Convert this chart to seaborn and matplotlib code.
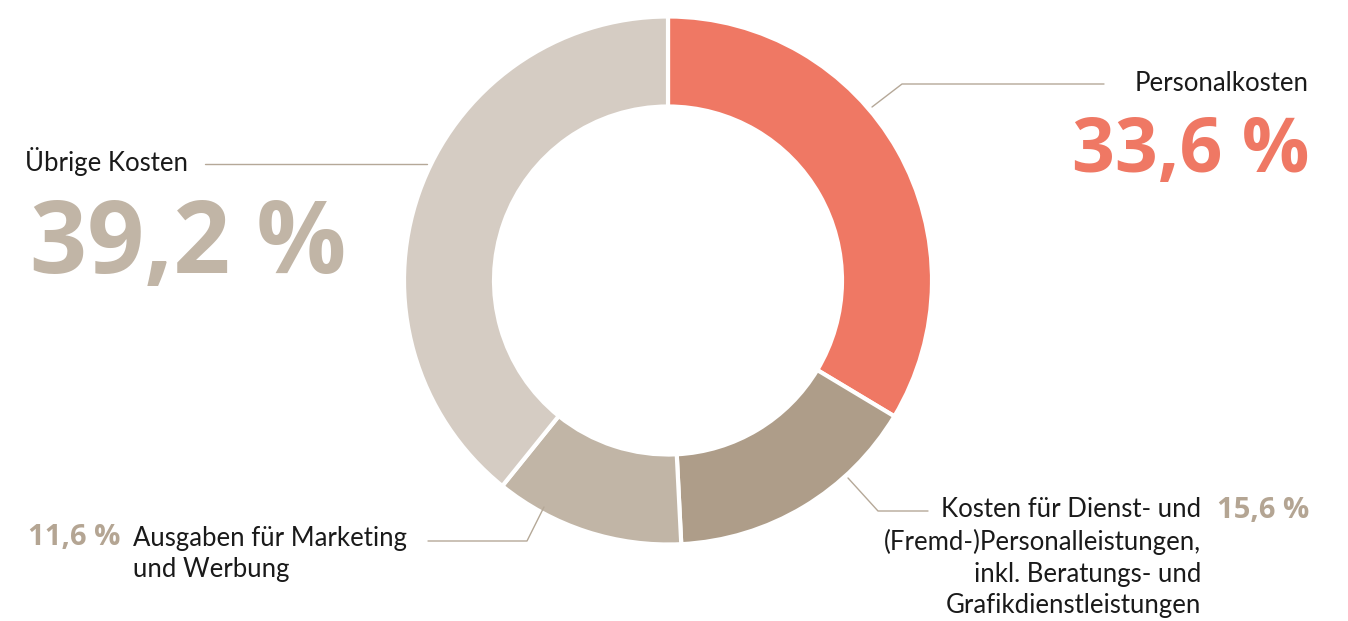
import matplotlib.pyplot as plt
import seaborn as sns

# data
categories = ['Personalkosten',
              'Kosten für Dienst- und\n(Fremd-)Personalleistungen,\ninkl. Beratungs- und\nGrafikdienstleistungen',
              'Ausgaben für Marketing\nund Werbung',
              'Übrige Kosten']
shares = [33.6, 15.6, 11.6, 39.2]
colors = ['#EF7864', '#AE9D89', '#C1B5A6', '#D5CCC3']

sns.set_theme(style='white')
plt.rcParams['font.family'] = ['Lato', 'DejaVu Sans']

def pct(v):
    return f'{v:.1f}'.replace('.', ',') + ' %'

W, H = 1348, 621
fig = plt.figure(figsize=(13.48, 6.21), dpi=100)
ax = fig.add_axes([0, 0, 1, 1])

ax.pie(shares, colors=colors, startangle=90, counterclock=False,
       center=(668, H - 280.5), radius=264,
       wedgeprops=dict(width=90, edgecolor='white', linewidth=3))
ax.set_xlim(0, W)
ax.set_ylim(0, H)
ax.set_aspect('equal')
ax.axis('off')

line_c = '#B5A898'
dark = '#1a1a1a'
num_c = '#B4A593'
num_font = ['Open Sans', 'DejaVu Sans']
lab_size = 18.5

def leader(xs, ys):
    ax.plot(xs, [H - y for y in ys], color=line_c, lw=1)

# Personalkosten
leader([872, 902, 1104], [107, 84, 84])
ax.text(1309, H - 91, categories[0], ha='right', va='baseline', fontsize=lab_size, color=dark)
ax.text(1309, H - 172, pct(shares[0]), ha='right', va='baseline', fontsize=54,
        fontweight='bold', family=num_font, color=colors[0])

# Übrige Kosten
leader([205, 427], [164, 164])
ax.text(25, H - 171, categories[3], ha='left', va='baseline', fontsize=lab_size, color=dark)
ax.text(30, H - 273, pct(shares[3]), ha='left', va='baseline', fontsize=72,
        fontweight='bold', family=num_font, color=colors[2])

# Marketing (baseline of multi-line text = last line)
leader([428, 527, 544], [541, 541, 507])
ax.text(28, H - 545, pct(shares[2]), ha='left', va='baseline', fontsize=21,
        fontweight='bold', family=num_font, color=num_c)
ax.text(133, H - 577, categories[2], ha='left', va='baseline', fontsize=lab_size,
        color=dark, linespacing=1.32)

# Dienst
leader([848, 878, 928], [478, 511, 511])
ax.text(1201, H - 613, categories[1], ha='right', va='baseline', fontsize=lab_size,
        color=dark, linespacing=1.32)
ax.text(1309, H - 518, pct(shares[1]), ha='right', va='baseline', fontsize=21,
        fontweight='bold', family=num_font, color=num_c)

fig.savefig('out.png', dpi=100)
